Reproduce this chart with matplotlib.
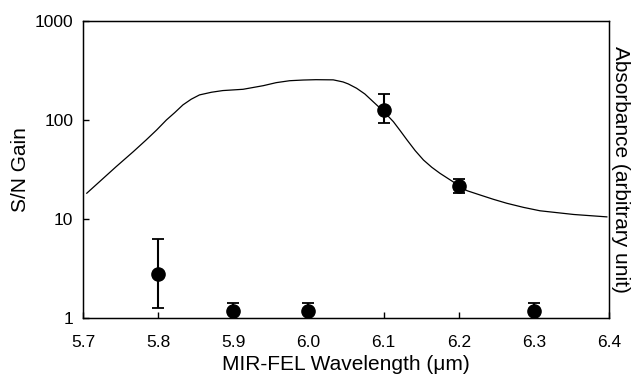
import matplotlib
matplotlib.use("Agg")
import matplotlib.pyplot as plt
import numpy as np

plt.rcParams['font.family'] = ['Liberation Sans', 'DejaVu Sans']

# S/N gain measurements
wl = [5.8, 5.9, 6.0, 6.1, 6.2, 6.3]
gain = [2.78, 1.18, 1.18, 126, 21.5, 1.18]
err_lo = [1.52, 0.25, 0.25, 32, 3.1, 0.25]
err_hi = [3.5, 0.25, 0.25, 56, 3.7, 0.25]

# absorbance spectrum (arbitrary unit, drawn on same scale)
abs_wl = [5.705, 5.722, 5.744, 5.767, 5.784, 5.798, 5.811, 5.822, 5.833,
          5.844, 5.855, 5.871, 5.886, 5.913, 5.940, 5.957, 5.975, 5.993,
          6.010, 6.033, 6.046, 6.053, 6.064, 6.075, 6.086, 6.100, 6.113,
          6.122, 6.131, 6.142, 6.153, 6.164, 6.175, 6.200, 6.211, 6.228,
          6.246, 6.264, 6.286, 6.308, 6.330, 6.353, 6.397]
abs_val = [18.2, 23.8, 33.7, 47.9, 62.8, 79.2, 100, 118.5, 142,
           162, 179, 190.5, 198, 204, 222, 238, 249, 253,
           255, 254, 242, 231, 209, 183, 153, 122, 96,
           78, 63, 49, 39.4, 33.3, 28.9, 21.8, 19.3, 17.5,
           15.8, 14.4, 13.1, 12.1, 11.6, 11.1, 10.5]

xticks = [5.7, 5.8, 5.9, 6.0, 6.1, 6.2, 6.3, 6.4]
yticks = [1, 10, 100, 1000]

fig = plt.figure(figsize=(6.4, 3.77), dpi=100)
ax = fig.add_axes([0.1297, 0.1565, 0.822, 0.788])

ax.plot(abs_wl, abs_val, color='black', lw=0.9)
ax.errorbar(wl, gain, yerr=[err_lo, err_hi], fmt='o', color='black',
            ms=9.5, elinewidth=1.5, capsize=4.5, capthick=1.3)

ax.set_yscale('log')
ax.set_xlim(5.7, 6.4)
ax.set_ylim(1, 1000)
ax.set_xticks(xticks)
ax.set_xticklabels(['%.1f' % t for t in xticks])
ax.set_yticks(yticks)
ax.set_yticklabels([str(t) for t in yticks])
ax.minorticks_off()
ax.tick_params(direction='in', length=4, width=1, labelsize=12.5, pad=7)
ax.tick_params(axis='x', pad=12)
for s in ax.spines.values():
    s.set_linewidth(1)

ax.set_xlabel('MIR-FEL Wavelength (\u03bcm)', fontsize=15, labelpad=4)
ax.set_ylabel('S/N Gain', fontsize=15, labelpad=3)

ax2 = ax.twinx()
ax2.set_yticks([])
ax2.set_ylabel('Absorbance (arbitrary unit)', fontsize=15, rotation=270,
               labelpad=15)

fig.savefig('out.png', dpi=100)
